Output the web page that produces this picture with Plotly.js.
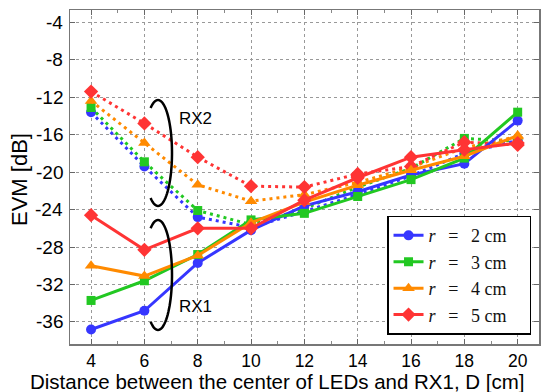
<!DOCTYPE html>
<html>
<head>
<meta charset="utf-8">
<script src="https://cdn.plot.ly/plotly-3.0.1.min.js"></script>
<style>html,body{margin:0;padding:0;background:#fff;}#chart{width:551px;height:392px;}</style>
</head>
<body>
<div id="chart"></div>
<script>
// Distance D [cm]
const distance = [4, 6, 8, 10, 12, 14, 16, 18, 20];
// RX1 (solid) EVM [dB]
const rx1_r2 = [-36.8, -34.8, -29.7, -26.2, -23.6, -22.1, -20.3, -19.1, -14.5];
const rx1_r3 = [-33.7, -31.6, -28.8, -25.1, -24.4, -22.6, -20.8, -18.5, -13.6];
const rx1_r4 = [-30.0, -31.1, -28.9, -25.4, -23.2, -21.4, -19.8, -18.3, -16.1];
const rx1_r5 = [-24.6, -28.3, -26.0, -26.0, -23.0, -20.6, -18.4, -17.6, -16.9];
// RX2 (dotted) EVM [dB]
const rx2_r2 = [-13.6, -19.4, -24.8, -25.9, -24.2, -22.4, -20.4, -18.0, -16.6];
const rx2_r3 = [-13.1, -18.9, -24.1, -25.6, -23.9, -21.6, -19.6, -16.4, -16.7];
const rx2_r4 = [-12.4, -16.9, -21.35, -23.1, -22.4, -21.1, -19.5, -17.4, -16.2];
const rx2_r5 = [-11.4, -14.8, -18.4, -21.5, -21.6, -20.2, -19.4, -16.8, -17.1];

const rValues = ['2', '3', '4', '5'];
const yTickVals = [-36, -32, -28, -24, -20, -16, -12, -8, -4];
const yTickText = ['-36', '-32', '-28', '-24', '-20', '-16', '-12', '-8', '-4'];
const xTickVals = [4, 6, 8, 10, 12, 14, 16, 18, 20];
const xTickText = ['4', '6', '8', '10', '12', '14', '16', '18', '20'];
const xTitle = 'Distance between the center of LEDs and RX1, D [cm]';
const yTitle = 'EVM [dB]';

const legendNames = rValues.map(v => '<i>r</i>\u2002\u2009=\u2002\u2009' + v + ' cm\u2003');
const colors = ['#3636ff', '#22c822', '#ff8a00', '#ff3434'];
const symbols = ['circle', 'square', 'triangle-up', 'diamond'];
const msize = [10, 9, 11, 11];
const rx1 = [rx1_r2, rx1_r3, rx1_r4, rx1_r5];
const rx2 = [rx2_r2, rx2_r3, rx2_r4, rx2_r5];

const traces = [];
for (let i = 0; i < 4; i++) {
  traces.push({
    x: distance, y: rx2[i], mode: 'lines+markers', showlegend: false,
    line: {color: colors[i], width: 3, dash: '3px,4px'},
    marker: {color: colors[i], symbol: symbols[i], size: msize[i]}
  });
}
for (let i = 0; i < 4; i++) {
  traces.push({
    x: distance, y: rx1[i], mode: 'lines+markers', name: legendNames[i],
    line: {color: colors[i], width: 3},
    marker: {color: colors[i], symbol: symbols[i], size: msize[i]}
  });
}

// plot geometry
const W = 551, H = 392, mL = 70, mR = 12, mT = 10, mB = 48;
const xr = [3.21, 20.8], yr = [-38.35, -2.69];
const pw = W - mL - mR, ph = H - mT - mB;
function px2x(px) { return xr[0] + (px - mL) / pw * (xr[1] - xr[0]); }
function py2y(py) { return yr[1] - (py - mT) / ph * (yr[1] - yr[0]); }
function px2paperX(px) { return (px - mL) / pw; }
function py2paperY(py) { return (H - mB - py) / ph; }
function arcPath(cx, cy, rx, ry) {
  let s = '';
  for (let a = -122; a <= 122; a += 4) {
    const t = a * Math.PI / 180;
    const px = cx + rx * Math.cos(t), py = cy + ry * Math.sin(t);
    s += (a === -122 ? 'M ' : ' L ') + px2x(px).toFixed(4) + ',' + py2y(py).toFixed(4);
  }
  return s;
}

const annotations = [
  {x: px2x(195), y: py2y(118), xref: 'x', yref: 'y', text: 'RX2', showarrow: false, font: {size: 17}},
  {x: px2x(195), y: py2y(306), xref: 'x', yref: 'y', text: 'RX1', showarrow: false, font: {size: 17}},
  {x: px2paperX(277), y: py2paperY(382), xref: 'paper', yref: 'paper', text: xTitle,
   showarrow: false, xanchor: 'center', yanchor: 'middle', font: {size: 20.5}},
  {x: px2paperX(19), y: py2paperY(180), xref: 'paper', yref: 'paper', text: yTitle, textangle: -90,
   showarrow: false, xanchor: 'center', yanchor: 'middle', font: {size: 22}}
];
yTickVals.forEach((v, i) => annotations.push({
  x: px2paperX(65), y: v, xref: 'paper', yref: 'y', text: yTickText[i], showarrow: false,
  xanchor: 'right', yanchor: 'middle', font: {size: 19}
}));

const font = 'Liberation Sans, Arial, sans-serif';
const layout = {
  width: W, height: H, autosize: false,
  margin: {l: mL, r: mR, t: mT, b: mB, pad: 0},
  paper_bgcolor: '#fff', plot_bgcolor: '#fff',
  font: {family: font, size: 18, color: '#000'},
  showlegend: true,
  legend: {
    x: 0.983, y: 0.028, xanchor: 'right', yanchor: 'bottom',
    bgcolor: '#fff', bordercolor: '#000', borderwidth: 1.5,
    font: {family: 'Liberation Serif, DejaVu Serif, serif', size: 18, color: '#111'},
    tracegroupgap: 0, itemwidth: 30
  },
  xaxis: {
    range: xr, tickvals: xTickVals, ticktext: xTickText,
    ticks: 'inside', ticklen: 5, tickcolor: '#666', mirror: 'ticks',
    showline: true, linecolor: '#777', linewidth: 1.5,
    showgrid: true, gridcolor: '#999', griddash: 'dot', gridwidth: 1,
    zeroline: false,
    minor: {dtick: 1, tick0: 3, ticks: 'inside', ticklen: 3, tickcolor: '#888', showgrid: false},
    tickfont: {size: 17.5}
  },
  yaxis: {
    range: yr, tickvals: yTickVals, showticklabels: false,
    ticks: 'inside', ticklen: 5, tickcolor: '#666', mirror: 'ticks',
    showline: true, linecolor: '#777', linewidth: 1.5,
    showgrid: true, gridcolor: '#999', griddash: 'dot', gridwidth: 1,
    zeroline: false
  },
  shapes: [
    {type: 'path', xref: 'x', yref: 'y', path: arcPath(158, 153, 14, 53), line: {color: '#000', width: 2.5}},
    {type: 'path', xref: 'x', yref: 'y', path: arcPath(158, 275, 14, 55), line: {color: '#000', width: 2.5}}
  ],
  annotations: annotations
};

Plotly.newPlot('chart', traces, layout, {displayModeBar: false, staticPlot: true});
</script>
</body>
</html>
